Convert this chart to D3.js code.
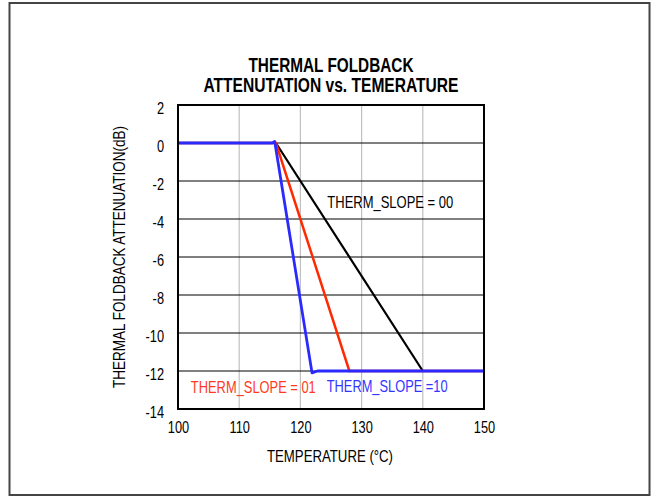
<!DOCTYPE html>
<html><head><meta charset="utf-8">
<script src="https://cdn.jsdelivr.net/npm/d3@7"></script>
<style>
body{margin:0;background:#fff;}
text{font-family:"Liberation Sans Narrow","Arial Narrow","Liberation Sans",Arial,sans-serif;}
</style></head><body>
<svg id="c" width="652" height="497"></svg>
<script>
const titleLines = ["THERMAL FOLDBACK", "ATTENUTATION vs. TEMERATURE"];
const xTicks = [100, 110, 120, 130, 140, 150];
const yTicks = [2, 0, -2, -4, -6, -8, -10, -12, -14];
const xLabel = "TEMPERATURE (°C)";
const yLabel = "THERMAL FOLDBACK ATTENUATION(dB)";
const slope00 = [[100,0],[116,0],[140,-12],[150,-12]];
const slope01 = [[100,0],[116,0],[128,-12],[150,-12]];
const slope10 = [[100,0],[115.4,0],[115.8,0.08],[121.9,-12.1],[122.8,-12],[150,-12]];
const labels = [
  {text:"THERM_SLOPE = 00", x:124.4, y:-3.42, color:"#000"},
  {text:"THERM_SLOPE = 01", x:102.1, y:-13.15, color:"#ff3a22"},
  {text:"THERM_SLOPE =10", x:124.3, y:-13.1, color:"#3434ff"}
];

const FONT = '"Liberation Sans Narrow","Arial Narrow","Liberation Sans",Arial,sans-serif';
const svg = d3.select("#c");
svg.append("rect").attr("x",9.5).attr("y",3).attr("width",640).attr("height",492)
  .attr("fill","none").attr("stroke","#444").attr("stroke-width",2);

const L=178, R=484, T=105, B=409;
const x = d3.scaleLinear().domain([100,150]).range([L,R]);
const y = d3.scaleLinear().domain([-14,2]).range([B,T]);

function condense(sel, f){
  sel.each(function(){
    const w = this.getComputedTextLength();
    d3.select(this).attr("textLength", w*f).attr("lengthAdjust","spacingAndGlyphs");
  });
}
function fit(sel, w){ sel.attr("textLength", w).attr("lengthAdjust","spacingAndGlyphs"); }

// vertical grid (gray)
svg.append("g").selectAll("line").data(xTicks.slice(1,-1)).join("line")
  .attr("x1",d=>x(d)).attr("x2",d=>x(d)).attr("y1",T).attr("y2",B)
  .attr("stroke","#c0c0c0").attr("stroke-width",1.2);
// horizontal grid (black)
svg.append("g").selectAll("line").data(yTicks.slice(1,-1)).join("line")
  .attr("x1",L).attr("x2",R).attr("y1",d=>y(d)).attr("y2",d=>y(d))
  .attr("stroke","#000").attr("stroke-width",1);

const line = d3.line().x(d=>x(d[0])).y(d=>y(d[1]));
svg.append("path").datum(slope00).attr("d",line).attr("fill","none").attr("stroke","#000").attr("stroke-width",2.2);
svg.append("path").datum(slope01).attr("d",line).attr("fill","none").attr("stroke","#ff2a00").attr("stroke-width",2.5);
svg.append("path").datum(slope10).attr("d",line).attr("fill","none").attr("stroke","#2a2aff").attr("stroke-width",2.8).attr("stroke-linejoin","round");

svg.append("rect").attr("x",L).attr("y",T).attr("width",R-L).attr("height",B-T)
  .attr("fill","none").attr("stroke","#000").attr("stroke-width",2);

// axes
const xa = svg.append("g").attr("transform",`translate(0,${B})`)
  .call(d3.axisBottom(x).tickValues(xTicks).tickSize(0).tickPadding(13).tickFormat(d=>String(d)));
xa.select(".domain").remove();
xa.selectAll("text").attr("font-size",16).attr("fill","#000").style("font-family",FONT).attr("dy","0.71em");
condense(xa.selectAll("text"), 0.8);
const ya = svg.append("g").attr("transform",`translate(${L},0)`)
  .call(d3.axisLeft(y).tickValues(yTicks).tickSize(0).tickPadding(14).tickFormat(d=>String(d)));
ya.select(".domain").remove();
ya.selectAll("text").attr("font-size",16).attr("fill","#000").style("font-family",FONT).attr("dy","0.55em");
condense(ya.selectAll("text"), 0.8);

// titles
const tw = [165, 255];
svg.append("g").selectAll("text").data(titleLines).join("text")
  .attr("x",331).attr("y",(d,i)=>71.5+i*20.5).attr("text-anchor","middle")
  .attr("font-size",19.5).attr("font-weight","bold").text(d=>d)
  .each(function(d,i){ fit(d3.select(this), tw[i]); });
fit(svg.append("text").attr("x",330).attr("y",462).attr("text-anchor","middle").attr("font-size",16).text(xLabel), 126);
fit(svg.append("text").attr("transform",`translate(124.5,${(T+B)/2}) rotate(-90)`).attr("text-anchor","middle")
  .attr("font-size",16).text(yLabel), 262);

// curve labels: horizontally scaled so their boxes match the narrow look
const lw = [126, 125, 121];
svg.append("g").selectAll("text").data(labels).join("text")
  .attr("font-size",16).attr("fill",d=>d.color).text(d=>d.text)
  .each(function(d,i){
    const w = this.getComputedTextLength();
    d3.select(this).attr("transform",`translate(${x(d.x)},${y(d.y)}) scale(${lw[i]/w},1)`);
  });
</script></body></html>
